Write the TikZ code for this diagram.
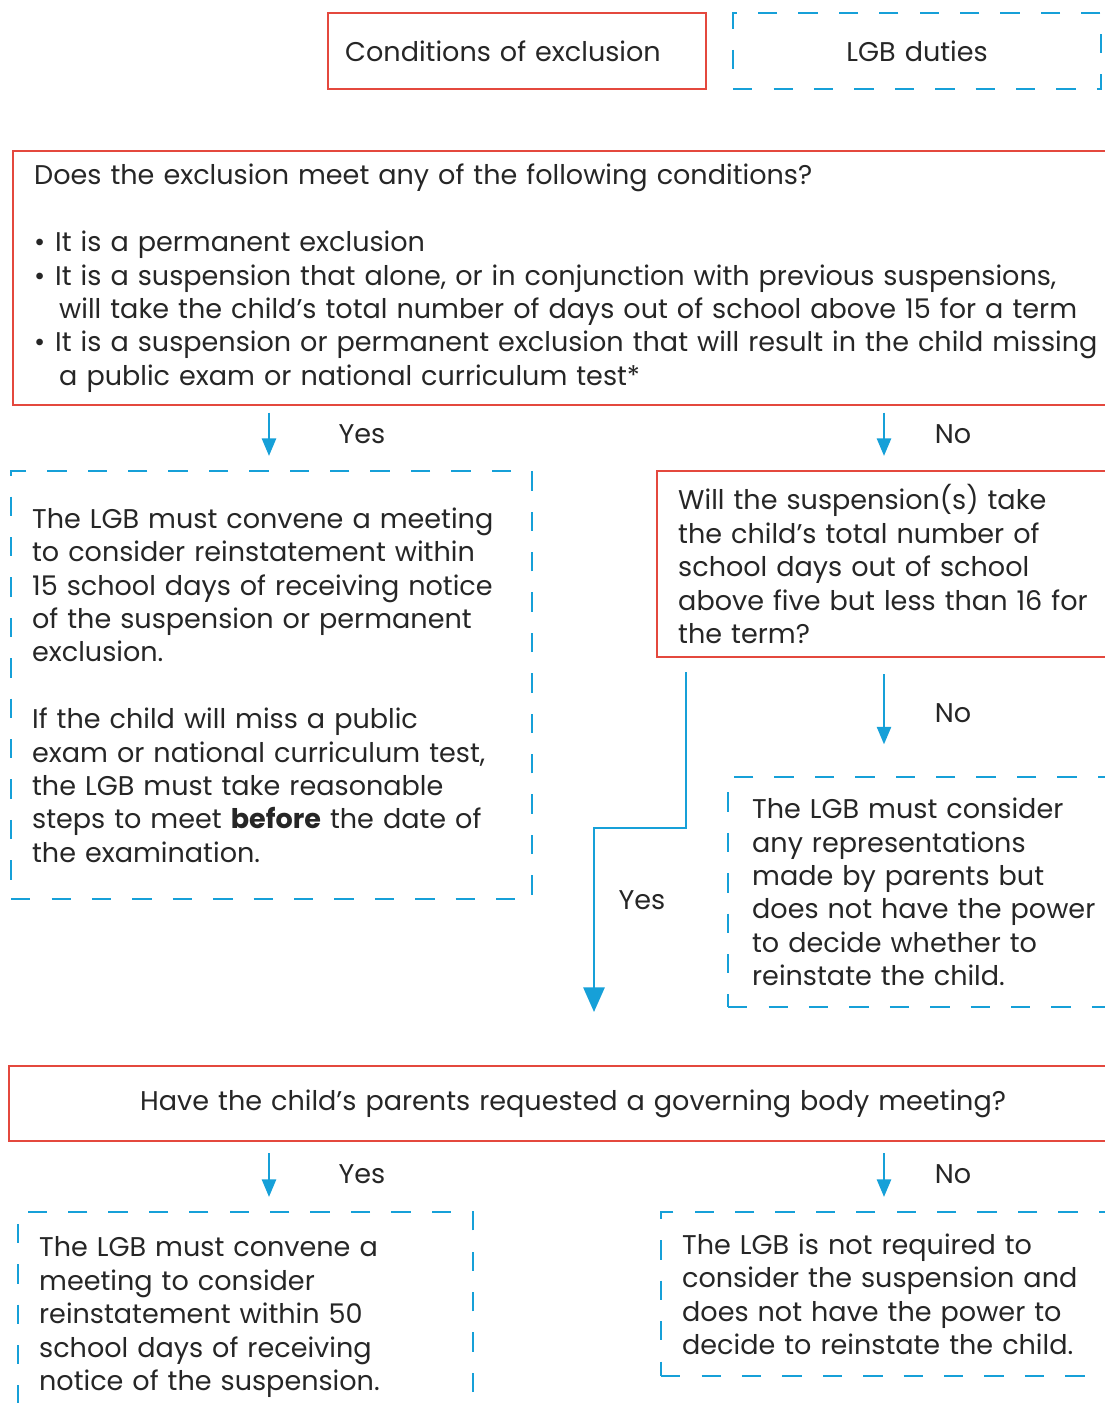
\documentclass[tikz,border=0pt]{standalone}
\usepackage{fontspec}
\setmainfont{Poppins}
\usetikzlibrary{arrows.meta,positioning}
\definecolor{exred}{RGB}{228,72,62}
\definecolor{lgbblue}{RGB}{22,160,216}
\tikzset{
  txt/.style={font=\fontsize{15.4}{19}\selectfont, text=black!85},
  cond/.style={txt, draw=exred, line width=1.4pt, align=left, inner xsep=0.42cm, inner ysep=0pt, anchor=north west},
  duty/.style={txt, draw=lgbblue, line width=1.3pt, dash pattern=on 11pt off 12pt, align=left, inner xsep=0.42cm, inner ysep=0pt, anchor=north west},
  flow/.style={draw=lgbblue, line width=1.4pt, -{Triangle[width=8pt,length=10pt]}},
  bigflow/.style={flow, -{Triangle[width=12pt,length=14pt]}},
  lbl/.style={txt, inner sep=0pt}
}
\newcommand{\bul}{\makebox[0.42cm][l]{\textbullet}}
\newcommand{\cont}{\hspace*{0.5cm}}
\begin{document}
\begin{tikzpicture}[x=0.02cm, y=-0.02cm]
  \clip (0,0) rectangle (1105,1403);
  \useasboundingbox (0,0) rectangle (1105,1403);
  % key
  \node[cond, text width=6.88cm, minimum height=1.52cm, inner xsep=0.34cm] (key1) at (327,12) {Conditions of exclusion};
  \node[duty, text width=6.52cm, minimum height=1.52cm, align=center] (key2) at (732,12) {LGB duties};
  % first question
  \node[cond, text width=21.92cm, minimum height=5.08cm] (q1) at (12,150)
    {Does the exclusion meet any of the following conditions?\\[19pt]
     \bul It is a permanent exclusion\\
     \bul It is a suspension that alone, or in conjunction with previous suspensions,\\
     \cont will take the child’s total number of days out of school above 15 for a term\\
     \bul It is a suspension or permanent exclusion that will result in the child missing\\
     \cont a public exam or national curriculum test*};
  \node[duty, text width=9.58cm, minimum height=8.56cm] (meet) at (10,470)
    {The LGB must convene a meeting\\
     to consider reinstatement within\\
     15 school days of receiving notice\\
     of the suspension or permanent\\
     exclusion.\\[19pt]
     If the child will miss a public\\
     exam or national curriculum test,\\
     the LGB must take reasonable\\
     steps to meet \textbf{before} the date of\\
     the examination.};
  \node[cond, text width=9.04cm, minimum height=3.72cm] (q2) at (656,470)
    {Will the suspension(s) take\\
     the child’s total number of\\
     school days out of school\\
     above five but less than 16 for\\
     the term?};
  \node[duty, text width=7.5cm, minimum height=4.6cm, inner xsep=0.48cm] (reps) at (727,776)
    {The LGB must consider\\
     any representations\\
     made by parents but\\
     does not have the power\\
     to decide whether to\\
     reinstate the child.};
  % second question
  \node[cond, text width=22.36cm, minimum height=1.5cm, align=center, inner xsep=0.1cm] (q3) at (8,1065)
    {Have the child’s parents requested a governing body meeting?};
  \node[duty, text width=8.26cm, minimum height=4.2cm] (meet2) at (17,1211)
    {The LGB must convene a\\
     meeting to consider\\
     reinstatement within 50\\
     school days of receiving\\
     notice of the suspension.};
  \node[duty, text width=8.96cm, minimum height=3.28cm] (nomeet) at (660,1211)
    {The LGB is not required to\\
     consider the suspension and\\
     does not have the power to\\
     decide to reinstate the child.};
  % connectors
  \coordinate (lx) at (269,0);
  \coordinate (rx) at (884,0);
  \coordinate (ex) at (686,0);
  \coordinate (bend1) at (686,828);
  \coordinate (bend2) at (594,828);
  \coordinate (tip) at (594,1012);
  \draw[flow, shorten <=3.5pt, shorten >=8pt] (q1.south -| lx) -- (meet.north -| lx);
  \draw[flow, shorten <=3.5pt, shorten >=8pt] (q1.south -| rx) -- (q2.north -| rx);
  \draw[flow, shorten <=9pt, shorten >=18pt] (q2.south -| rx) -- (reps.north -| rx);
  \draw[bigflow, shorten <=8pt] (q2.south -| ex) -- (bend1) -- (bend2) -- (tip);
  \draw[flow, shorten <=6pt, shorten >=8pt] (q3.south -| lx) -- (meet2.north -| lx);
  \draw[flow, shorten <=6pt, shorten >=8pt] (q3.south -| rx) -- (nomeet.north -| rx);
  % labels
  \node[lbl] (y1) at (362,434) {Yes};
  \node[lbl] (n1) at (953,434) {No};
  \node[lbl] (n2) at (953,713) {No};
  \node[lbl] (y2) at (642,900) {Yes};
  \node[lbl] (y3) at (362,1174) {Yes};
  \node[lbl] (n3) at (953,1174) {No};
\end{tikzpicture}
\end{document}
